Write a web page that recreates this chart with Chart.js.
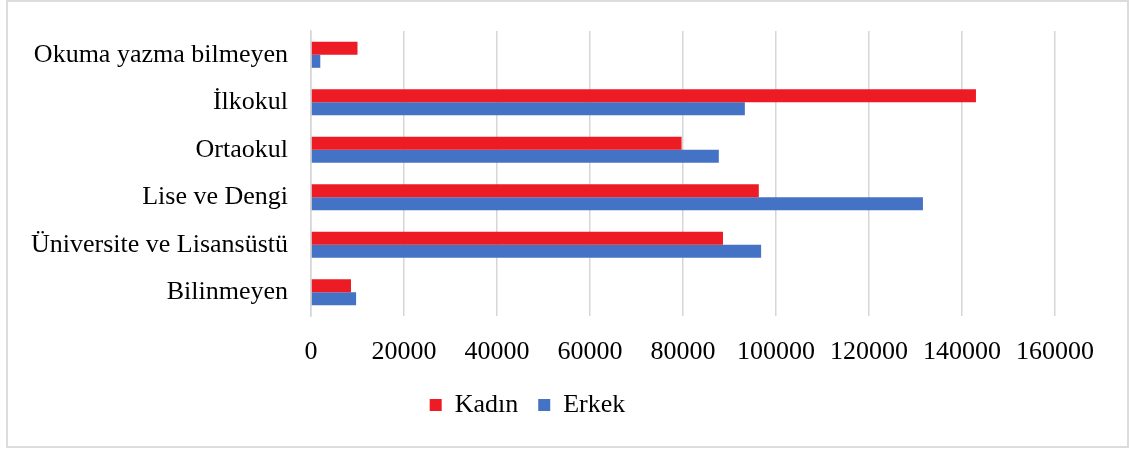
<!DOCTYPE html>
<html>
<head>
<meta charset="utf-8">
<script src="https://cdn.jsdelivr.net/npm/chart.js@4/dist/chart.umd.min.js"></script>
<style>
  html, body { margin: 0; padding: 0; background: #fff; overflow: hidden; }
  #wrap { position: relative; width: 1129px; height: 449px; }
  #frame { position: absolute; left: 6px; top: 0px; width: 1119px; height: 444px;
           border: 2px solid #dcdcdc; pointer-events: none; box-sizing: content-box; }
</style>
</head>
<body>
<div id="wrap">
  <canvas id="c" width="1129" height="449"></canvas>
  <div id="frame"></div>
</div>
<script>
const categories = ['Okuma yazma bilmeyen', 'İlkokul', 'Ortaokul', 'Lise ve Dengi', 'Üniversite ve Lisansüstü', 'Bilinmeyen'];
const kadin = [10000, 143000, 79700, 96300, 88600, 8600];
const erkek = [2000, 93300, 87700, 131600, 96800, 9700];
const xTickValues = [0, 20000, 40000, 60000, 80000, 100000, 120000, 140000, 160000];
const xTickLabels = ['0', '20000', '40000', '60000', '80000', '100000', '120000', '140000', '160000'];

const FONT = { family: '"Liberation Serif", "Times New Roman", serif', size: 26 };

new Chart(document.getElementById('c'), {
  type: 'bar',
  data: {
    labels: categories,
    datasets: [
      { label: 'Kadın', data: kadin, backgroundColor: '#ED1C24', borderWidth: 0,
        barPercentage: 1.0, categoryPercentage: 0.55 },
      { label: 'Erkek', data: erkek, backgroundColor: '#4472C4', borderWidth: 0,
        barPercentage: 1.0, categoryPercentage: 0.55 }
    ]
  },
  options: {
    indexAxis: 'y',
    responsive: false,
    animation: false,
    layout: { padding: { left: 0, right: 74, top: 31, bottom: 21 } },
    scales: {
      x: {
        min: 0, max: 160000,
        afterBuildTicks: (scale) => { scale.ticks = xTickValues.map(v => ({ value: v })); },
        afterFit: (scale) => { scale.height = 56; },
        ticks: {
          color: '#000', font: FONT, padding: 21, maxRotation: 0, autoSkip: false,
          callback: (v) => { const i = xTickValues.indexOf(v); return i >= 0 ? xTickLabels[i] : ''; }
        },
        grid: { color: '#d6d6d6', lineWidth: 1.5, drawTicks: false },
        border: { display: false }
      },
      y: {
        afterFit: (scale) => { scale.width = 311; scale.paddingTop = 0; scale.paddingBottom = 0; },
        ticks: { color: '#000', font: FONT, padding: 23 },
        grid: { display: false, drawTicks: false },
        border: { display: true, color: '#d6d6d6', width: 1.5 }
      }
    },
    plugins: {
      legend: {
        position: 'bottom',
        labels: { color: '#000', font: FONT, boxWidth: 12, boxHeight: 12, padding: 20 }
      },
      tooltip: { enabled: false }
    }
  }
});
</script>
</body>
</html>
